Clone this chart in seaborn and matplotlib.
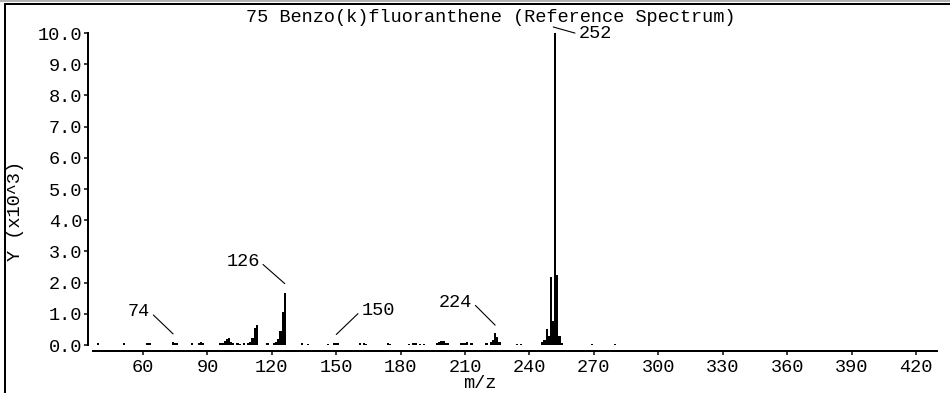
import matplotlib
matplotlib.use("Agg")
import matplotlib.pyplot as plt
import matplotlib.transforms as mtransforms
from matplotlib.lines import Line2D
import pandas as pd
import seaborn as sns

# ---------------- data ----------------
title = "75 Benzo(k)fluoranthene (Reference Spectrum)"
x_label = "m/z"
y_label = "Y (x10^3)"

mz = [39, 51, 62, 63, 74, 75, 76, 83, 86, 87, 88,
      96, 97, 98, 99, 100, 101, 102, 104, 105, 107, 109, 110, 111, 112, 113,
      118, 121, 122, 123, 124, 125, 126, 134, 137,
      146, 149, 150, 151, 161, 163, 164, 174, 175,
      184, 186, 187, 189, 191, 197, 198, 199, 200, 201, 202,
      208, 209, 210, 211, 213, 220, 222, 223, 224, 225, 226,
      234, 236, 246, 247, 248, 249, 250, 251, 252, 253, 254, 255, 269, 280]
abundance = [0.05, 0.06, 0.06, 0.08, 0.10, 0.07, 0.05, 0.05, 0.06, 0.10, 0.07,
             0.05, 0.07, 0.12, 0.20, 0.22, 0.10, 0.05, 0.05, 0.04, 0.05, 0.06, 0.10, 0.22, 0.55, 0.65,
             0.05, 0.05, 0.10, 0.20, 0.45, 1.07, 1.68, 0.05, 0.04,
             0.04, 0.05, 0.08, 0.05, 0.05, 0.05, 0.04, 0.06, 0.03,
             0.04, 0.05, 0.07, 0.04, 0.04, 0.05, 0.10, 0.12, 0.12, 0.08, 0.05,
             0.05, 0.06, 0.07, 0.10, 0.06, 0.05, 0.10, 0.15, 0.38, 0.27, 0.10,
             0.04, 0.04, 0.10, 0.15, 0.50, 0.30, 2.19, 0.78, 10.0, 2.25, 0.28, 0.06, 0.03, 0.03]
label_mz = [74, 126, 150, 224, 252]
x_ticks = [60, 90, 120, 150, 180, 210, 240, 270, 300, 330, 360, 390, 420]
y_ticks = [0, 1, 2, 3, 4, 5, 6, 7, 8, 9, 10]

# ---------------- style ----------------
sns.set_style("ticks")
plt.rcParams['font.family'] = ['Liberation Mono', 'DejaVu Sans Mono']
FS = 13.4
PX = 0.72  # points per pixel at dpi 100

W, H = 950, 393
fig = plt.figure(figsize=(W / 100, H / 100), dpi=100)
ax = fig.add_axes([93 / W, 1 - 345 / H, (937 - 93) / W, (345 - 33) / H])

df = pd.DataFrame({"mz": mz, "abundance": abundance})
sns.histplot(data=df, x="mz", weights="abundance", discrete=True,
             color="black", alpha=1, linewidth=0, ax=ax)

ax.set_xlim(36.7, 429.8)
ax.set_ylim(0, 10)
ax.set_xticks(x_ticks)
ax.set_xticklabels([str(t) for t in x_ticks])
ax.set_yticks(y_ticks)
ax.set_yticklabels([f"{t:.1f}" for t in y_ticks])
ax.set_xlabel("")
ax.set_ylabel("")

for s in ["top", "right"]:
    ax.spines[s].set_visible(False)
ax.spines["left"].set_position(("outward", 5 * PX))
ax.spines["bottom"].set_position(("outward", 6 * PX))
ax.spines["left"].set_linewidth(2 * PX)
ax.spines["bottom"].set_linewidth(2 * PX)
ax.spines["left"].set_color("black")
ax.spines["bottom"].set_color("black")
ax.tick_params(axis="x", direction="out", length=4 * PX, width=1.5 * PX,
               pad=3, colors="black", labelsize=FS)
ax.tick_params(axis="y", direction="out", length=4 * PX, width=1.5 * PX,
               pad=1.2, colors="black", labelsize=FS)

# peak annotations: (line-end dx px, line-end gap px, text dx px, text dy px, ha)
ann_style = {
    74: (0, 8, -23, 22, "right"),
    126: (0, 9, -25, 22, "right"),
    150: (0, 8, 25, 24, "left"),
    224: (0, 8, -23, 23, "right"),
    252: (-2, 6, 25, -7, "left"),
}
lookup = dict(zip(mz, abundance))
for m in label_mz:
    ex, gap, tx, ty, ha = ann_style[m]
    tr = mtransforms.offset_copy(ax.transData, fig=fig, x=ex * PX, y=gap * PX, units="points")
    ax.annotate(str(m), xy=(m, lookup[m]), xycoords=tr,
                xytext=(tx * PX, ty * PX), textcoords="offset points",
                ha=ha, va="center", fontsize=FS, color="black",
                arrowprops=dict(arrowstyle="-", color="black", lw=0.8,
                                shrinkA=0, shrinkB=0,
                                relpos=(1, 0.5) if ha == "right" else (0, 0.5)),
                annotation_clip=False)

fig.text(491 / W, 1 - 18 / H, title, ha="center", va="center", fontsize=FS, color="black")
fig.text(480 / W, 1 - 383 / H, x_label, ha="center", va="center", fontsize=FS, color="black")
fig.text(16 / W, 1 - 211 / H, y_label, ha="center", va="center", rotation=90,
         fontsize=FS, color="black")

# window frame
fig.add_artist(Line2D([0, 1], [1 - 1 / H, 1 - 1 / H], transform=fig.transFigure,
                      color="#999999", lw=1.5 * PX))
fig.add_artist(Line2D([5 / W, 1], [1 - 3.5 / H, 1 - 3.5 / H], transform=fig.transFigure,
                      color="black", lw=2 * PX))
fig.add_artist(Line2D([5 / W, 5 / W], [0, 1 - 3.5 / H], transform=fig.transFigure,
                      color="black", lw=2 * PX))

fig.savefig("out.png", dpi=100, facecolor="white")
